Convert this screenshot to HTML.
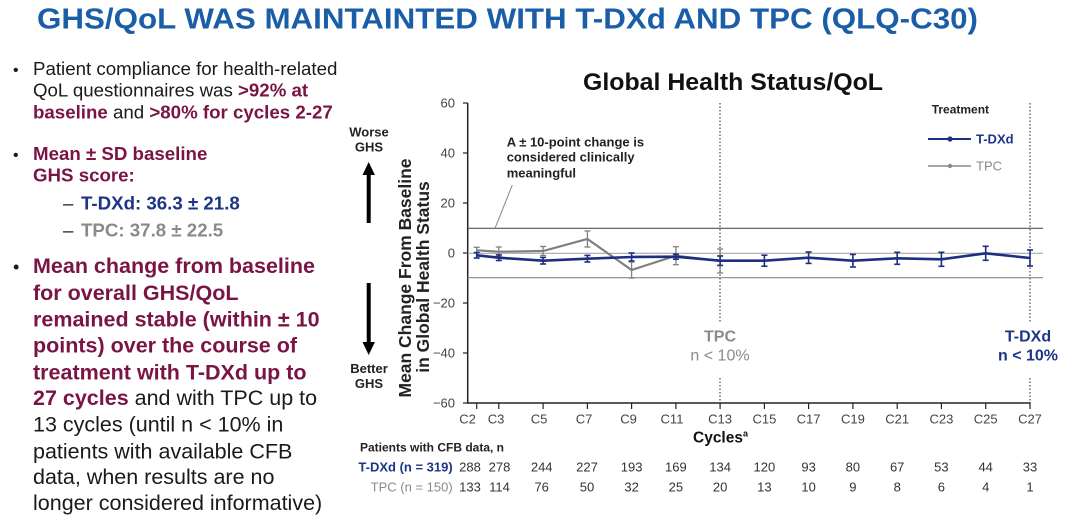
<!DOCTYPE html>
<html><head><meta charset="utf-8"><style>
html,body{margin:0;padding:0;background:#fff;}
svg{display:block;}
text{font-family:"Liberation Sans",Arial,sans-serif;}
</style></head><body>
<svg width="1080" height="525" viewBox="0 0 1080 525" xmlns="http://www.w3.org/2000/svg">
<rect width="1080" height="525" fill="#fff"/>
<!-- Title -->
<text x="37" y="28.5" font-size="29" font-weight="bold" fill="#1b5ea8" textLength="941" lengthAdjust="spacingAndGlyphs">GHS/QoL WAS MAINTAINTED WITH T-DXd AND TPC (QLQ-C30)</text>

<!-- Left bullets -->
<g font-size="18.7" fill="#1a1a1a">
<text x="13" y="75" font-size="16">•</text>
<text x="33" y="75">Patient compliance for health-related</text>
<text x="33" y="96.7">QoL questionnaires was <tspan fill="#7a1445" font-weight="bold">&gt;92% at</tspan></text>
<text x="33" y="118.3"><tspan fill="#7a1445" font-weight="bold">baseline</tspan> and <tspan fill="#7a1445" font-weight="bold">&gt;80% for cycles 2-27</tspan></text>
<text x="13" y="160" font-size="16">•</text>
<text x="33" y="160" fill="#7a1445" font-weight="bold">Mean ± SD baseline</text>
<text x="33" y="181.7" fill="#7a1445" font-weight="bold">GHS score:</text>
<text x="63" y="209.3">–</text>
<text x="81" y="209.3" fill="#1c3586" font-weight="bold">T-DXd: 36.3 ± 21.8</text>
<text x="63" y="236.7">–</text>
<text x="81" y="236.7" fill="#8a8a8a" font-weight="bold">TPC:  37.8 ± 22.5</text>
</g>
<g font-size="21.5" fill="#1a1a1a">
<text x="13" y="273" font-size="18">•</text>
<text x="33" y="273" fill="#7a1445" font-weight="bold">Mean change from baseline</text>
<text x="33" y="300" fill="#7a1445" font-weight="bold">for overall GHS/QoL</text>
<text x="33" y="326.7" fill="#7a1445" font-weight="bold">remained stable (within ± 10</text>
<text x="33" y="352.7" fill="#7a1445" font-weight="bold">points) over the course of</text>
<text x="33" y="379.3" fill="#7a1445" font-weight="bold">treatment with T-DXd up to</text>
<text x="33" y="405"><tspan fill="#7a1445" font-weight="bold">27 cycles</tspan> and with TPC up to</text>
<text x="33" y="431.7">13 cycles (until n &lt; 10% in</text>
<text x="33" y="458.3">patients with available CFB</text>
<text x="33" y="484">data, when results are no</text>
<text x="33" y="510">longer considered informative)</text>
</g>

<!-- Chart title -->
<text x="583" y="90" font-size="24" font-weight="bold" fill="#111" textLength="300" lengthAdjust="spacingAndGlyphs">Global Health Status/QoL</text>

<!-- Worse / Better GHS -->
<g font-size="13" font-weight="bold" fill="#222" text-anchor="middle">
<text x="369" y="136.7">Worse</text>
<text x="369" y="151.7">GHS</text>
<text x="369" y="373">Better</text>
<text x="369" y="388">GHS</text>
</g>
<rect x="366.7" y="172" width="4" height="51" fill="#000"/>
<polygon points="368.7,162 362.5,175 374.9,175" fill="#000"/>
<rect x="366.7" y="283" width="4" height="62" fill="#000"/>
<polygon points="368.7,355 362.5,342 374.9,342" fill="#000"/>

<!-- Y axis label -->
<g font-size="17.5" font-weight="bold" fill="#222" text-anchor="middle">
<text transform="translate(411,278) rotate(-90)" textLength="239" lengthAdjust="spacingAndGlyphs">Mean Change From Baseline</text>
<text transform="translate(429,277) rotate(-90)">in Global Health Status</text>
</g>

<!-- Y axis -->
<line x1="467.7" y1="103" x2="467.7" y2="403" stroke="#222" stroke-width="1.5"/>
<g stroke="#222" stroke-width="1.2">
<line x1="463" y1="103" x2="467.7" y2="103"/>
<line x1="463" y1="153" x2="467.7" y2="153"/>
<line x1="463" y1="203" x2="467.7" y2="203"/>
<line x1="463" y1="253" x2="467.7" y2="253"/>
<line x1="463" y1="303" x2="467.7" y2="303"/>
<line x1="463" y1="353" x2="467.7" y2="353"/>
<line x1="463" y1="403" x2="467.7" y2="403"/>
</g>
<g font-size="13" fill="#444" text-anchor="end">
<text x="455" y="107.5">60</text>
<text x="455" y="157.5">40</text>
<text x="455" y="207.5">20</text>
<text x="455" y="257.5">0</text>
<text x="455" y="307.5">−20</text>
<text x="455" y="357.5">−40</text>
<text x="455" y="407.5">−60</text>
</g>

<!-- Reference lines -->
<line x1="467.7" y1="228.3" x2="1043" y2="228.3" stroke="#555" stroke-width="1.2"/>
<line x1="467.7" y1="253.3" x2="1043" y2="253.3" stroke="#a8a8a8" stroke-width="1.2"/>
<line x1="467.7" y1="277.7" x2="1043" y2="277.7" stroke="#8a8a8a" stroke-width="1.2"/>

<!-- Annotation -->
<g font-size="13" font-weight="bold" fill="#222">
<text x="506.7" y="146.7">A ± 10-point change is</text>
<text x="506.7" y="161.7">considered clinically</text>
<text x="506.7" y="177.3">meaningful</text>
</g>
<line x1="512.3" y1="185" x2="495" y2="228.3" stroke="#888" stroke-width="1"/>

<!-- Dotted vertical lines -->
<g stroke="#555" stroke-width="1.3" stroke-dasharray="1.5,2">
<line x1="720" y1="103" x2="720" y2="322"/>
<line x1="720" y1="378" x2="720" y2="403"/>
<line x1="1030" y1="103" x2="1030" y2="322"/>
<line x1="1030" y1="378" x2="1030" y2="403"/>
</g>
<g font-size="16" text-anchor="middle">
<text x="720" y="341.7" fill="#8a8a8a" font-weight="bold">TPC</text>
<text x="720" y="360.7" fill="#8a8a8a">n &lt; 10%</text>
<text x="1028" y="341.7" fill="#1c3586" font-weight="bold">T-DXd</text>
<text x="1028" y="360.7" fill="#1c3586" font-weight="bold">n &lt; 10%</text>
</g>

<!-- Legend -->
<text x="931.7" y="113.3" font-size="12" font-weight="bold" fill="#222">Treatment</text>
<line x1="928" y1="139" x2="971" y2="139" stroke="#1c2f80" stroke-width="2"/>
<circle cx="950" cy="139" r="2.6" fill="#1c2f80"/>
<text x="976" y="143.5" font-size="13" font-weight="bold" fill="#1c3586">T-DXd</text>
<line x1="928" y1="166" x2="971" y2="166" stroke="#8a8a8a" stroke-width="1.6"/>
<circle cx="950" cy="166" r="2.2" fill="#8a8a8a"/>
<text x="976" y="170.5" font-size="13" fill="#8a8a8a">TPC</text>

<!-- TPC series -->
<g stroke="#808080" fill="none" stroke-width="2.2">
<polyline points="476.7,250.3 498.8,251.7 543.1,251 587.4,239 631.6,270 675.9,255.7 720.1,261"/>
</g>
<g stroke="#808080" stroke-width="1.3">
<line x1="476.7" y1="247.3" x2="476.7" y2="253.3"/><line x1="473.7" y1="247.3" x2="479.7" y2="247.3"/>
<line x1="498.8" y1="247" x2="498.8" y2="256.4"/><line x1="495.8" y1="247" x2="501.8" y2="247"/><line x1="495.8" y1="256.4" x2="501.8" y2="256.4"/>
<line x1="543.1" y1="246.5" x2="543.1" y2="255.5"/><line x1="540.1" y1="246.5" x2="546.1" y2="246.5"/><line x1="540.1" y1="255.5" x2="546.1" y2="255.5"/>
<line x1="587.4" y1="231" x2="587.4" y2="247"/><line x1="584.4" y1="231" x2="590.4" y2="231"/><line x1="584.4" y1="247" x2="590.4" y2="247"/>
<line x1="631.6" y1="262" x2="631.6" y2="278"/><line x1="628.6" y1="262" x2="634.6" y2="262"/><line x1="628.6" y1="278" x2="634.6" y2="278"/>
<line x1="675.9" y1="246.7" x2="675.9" y2="264.7"/><line x1="672.9" y1="246.7" x2="678.9" y2="246.7"/><line x1="672.9" y1="264.7" x2="678.9" y2="264.7"/>
<line x1="720.1" y1="249" x2="720.1" y2="273"/><line x1="717.1" y1="249" x2="723.1" y2="249"/><line x1="717.1" y1="273" x2="723.1" y2="273"/>
</g>

<!-- T-DXd series -->
<polyline fill="none" stroke="#1c2f80" stroke-width="2.6" points="476.7,255.3 498.8,257.7 543.1,260.7 587.4,258.7 631.6,257 675.9,256.7 720.1,260.7 764.4,260.7 808.6,257.7 852.9,260.7 897.2,258.3 941.4,259.3 985.7,253.3 1030,258"/>
<g stroke="#1c2f80" stroke-width="1.6">
<line x1="476.7" y1="252.6" x2="476.7" y2="258"/><line x1="473.7" y1="252.6" x2="479.7" y2="252.6"/><line x1="473.7" y1="258" x2="479.7" y2="258"/>
<line x1="498.8" y1="254.9" x2="498.8" y2="260.5"/><line x1="495.8" y1="254.9" x2="501.8" y2="254.9"/><line x1="495.8" y1="260.5" x2="501.8" y2="260.5"/>
<line x1="543.1" y1="257.4" x2="543.1" y2="264"/><line x1="540.1" y1="257.4" x2="546.1" y2="257.4"/><line x1="540.1" y1="264" x2="546.1" y2="264"/>
<line x1="587.4" y1="255.4" x2="587.4" y2="262"/><line x1="584.4" y1="255.4" x2="590.4" y2="255.4"/><line x1="584.4" y1="262" x2="590.4" y2="262"/>
<line x1="631.6" y1="253" x2="631.6" y2="261"/><line x1="628.6" y1="253" x2="634.6" y2="253"/><line x1="628.6" y1="261" x2="634.6" y2="261"/>
<line x1="675.9" y1="254.2" x2="675.9" y2="259.2"/><line x1="672.9" y1="254.2" x2="678.9" y2="254.2"/><line x1="672.9" y1="259.2" x2="678.9" y2="259.2"/>
<line x1="720.1" y1="256" x2="720.1" y2="265.4"/><line x1="717.1" y1="256" x2="723.1" y2="256"/><line x1="717.1" y1="265.4" x2="723.1" y2="265.4"/>
<line x1="764.4" y1="255.2" x2="764.4" y2="266.2"/><line x1="761.4" y1="255.2" x2="767.4" y2="255.2"/><line x1="761.4" y1="266.2" x2="767.4" y2="266.2"/>
<line x1="808.6" y1="252" x2="808.6" y2="263.4"/><line x1="805.6" y1="252" x2="811.6" y2="252"/><line x1="805.6" y1="263.4" x2="811.6" y2="263.4"/>
<line x1="852.9" y1="254.4" x2="852.9" y2="267"/><line x1="849.9" y1="254.4" x2="855.9" y2="254.4"/><line x1="849.9" y1="267" x2="855.9" y2="267"/>
<line x1="897.2" y1="252.3" x2="897.2" y2="264.3"/><line x1="894.2" y1="252.3" x2="900.2" y2="252.3"/><line x1="894.2" y1="264.3" x2="900.2" y2="264.3"/>
<line x1="941.4" y1="252.3" x2="941.4" y2="266.3"/><line x1="938.4" y1="252.3" x2="944.4" y2="252.3"/><line x1="938.4" y1="266.3" x2="944.4" y2="266.3"/>
<line x1="985.7" y1="246.3" x2="985.7" y2="260.3"/><line x1="982.7" y1="246.3" x2="988.7" y2="246.3"/><line x1="982.7" y1="260.3" x2="988.7" y2="260.3"/>
<line x1="1030" y1="250" x2="1030" y2="266"/><line x1="1027" y1="250" x2="1033" y2="250"/><line x1="1027" y1="266" x2="1033" y2="266"/>
</g>

<!-- X axis -->
<line x1="467" y1="403" x2="1030.7" y2="403" stroke="#222" stroke-width="1.5"/>
<g stroke="#222" stroke-width="1.2">
<line x1="476.7" y1="403" x2="476.7" y2="409"/>
<line x1="498.8" y1="403" x2="498.8" y2="409"/>
<line x1="543.1" y1="403" x2="543.1" y2="409"/>
<line x1="587.4" y1="403" x2="587.4" y2="409"/>
<line x1="631.6" y1="403" x2="631.6" y2="409"/>
<line x1="675.9" y1="403" x2="675.9" y2="409"/>
<line x1="720.1" y1="403" x2="720.1" y2="409"/>
<line x1="764.4" y1="403" x2="764.4" y2="409"/>
<line x1="808.6" y1="403" x2="808.6" y2="409"/>
<line x1="852.9" y1="403" x2="852.9" y2="409"/>
<line x1="897.2" y1="403" x2="897.2" y2="409"/>
<line x1="941.4" y1="403" x2="941.4" y2="409"/>
<line x1="985.7" y1="403" x2="985.7" y2="409"/>
<line x1="1030" y1="403" x2="1030" y2="409"/>
</g>
<g font-size="13" fill="#444" text-anchor="middle">
<text x="467.5" y="423.3">C2</text>
<text x="496" y="423.3">C3</text>
<text x="539" y="423.3">C5</text>
<text x="584" y="423.3">C7</text>
<text x="628.5" y="423.3">C9</text>
<text x="672" y="423.3">C11</text>
<text x="720.1" y="423.3">C13</text>
<text x="764.4" y="423.3">C15</text>
<text x="808.6" y="423.3">C17</text>
<text x="852.9" y="423.3">C19</text>
<text x="897.2" y="423.3">C21</text>
<text x="941.4" y="423.3">C23</text>
<text x="985.7" y="423.3">C25</text>
<text x="1030" y="423.3">C27</text>
</g>
<text x="693" y="442.7" font-size="15.5" font-weight="bold" fill="#111">Cycles<tspan font-size="9" dy="-6">a</tspan></text>

<!-- Patients table -->
<text x="360" y="451.7" font-size="12" font-weight="bold" fill="#222">Patients with CFB data, n</text>
<text x="452.7" y="471.7" font-size="13" font-weight="bold" fill="#1c3586" text-anchor="end">T-DXd (n = 319)</text>
<text x="452.7" y="491.7" font-size="13" fill="#8a8a8a" text-anchor="end">TPC (n = 150)</text>
<g font-size="13" fill="#333" text-anchor="middle">
<text x="470" y="471.7">288</text><text x="499.5" y="471.7">278</text><text x="541.7" y="471.7">244</text><text x="587" y="471.7">227</text><text x="631.6" y="471.7">193</text><text x="675.9" y="471.7">169</text><text x="720.1" y="471.7">134</text><text x="764.4" y="471.7">120</text><text x="808.6" y="471.7">93</text><text x="852.9" y="471.7">80</text><text x="897.2" y="471.7">67</text><text x="941.4" y="471.7">53</text><text x="985.7" y="471.7">44</text><text x="1030" y="471.7">33</text>
<text x="470" y="491.7">133</text><text x="499.5" y="491.7">114</text><text x="541.7" y="491.7">76</text><text x="587" y="491.7">50</text><text x="631.6" y="491.7">32</text><text x="675.9" y="491.7">25</text><text x="720.1" y="491.7">20</text><text x="764.4" y="491.7">13</text><text x="808.6" y="491.7">10</text><text x="852.9" y="491.7">9</text><text x="897.2" y="491.7">8</text><text x="941.4" y="491.7">6</text><text x="985.7" y="491.7">4</text><text x="1030" y="491.7">1</text>
</g>
</svg>
</body></html>
